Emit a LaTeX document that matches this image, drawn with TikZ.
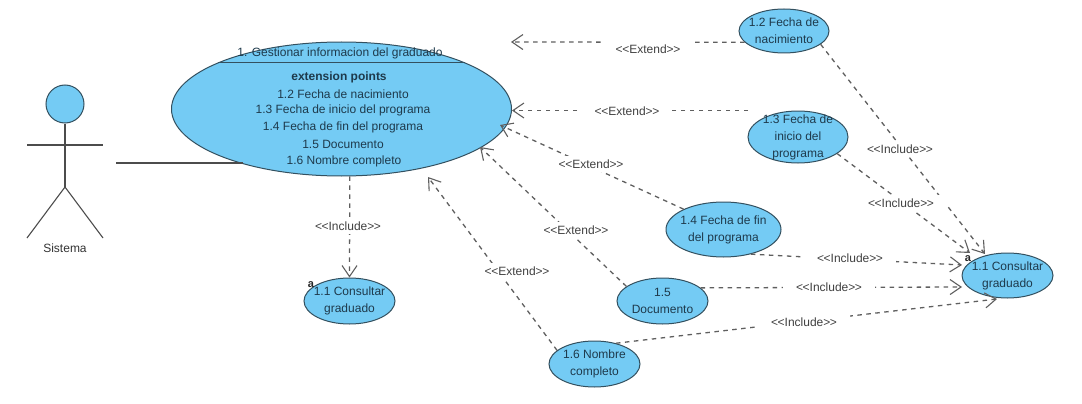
\documentclass[tikz,border=0pt]{standalone}
\usepackage{fontspec}
\setmainfont[Ligatures=NoCommon]{Liberation Sans}
\usetikzlibrary{arrows.meta,shapes.geometric}
\definecolor{ucfill}{HTML}{74CBF4}
\definecolor{ucline}{HTML}{33505F}
\definecolor{uctext}{HTML}{1E3A4C}
\definecolor{conn}{HTML}{5F5F5F}
\newcommand{\stereo}[1]{{<}\kern-0.4pt{<}#1{>}\kern-0.4pt{>}}
\tikzset{
  uc/.style={ellipse,draw=ucline,fill=ucfill,line width=1pt,inner sep=-12pt,align=center,text=uctext,
    font=\fontsize{12}{17}\selectfont},
  main text/.style={inner sep=0pt,text=uctext,font=\fontsize{12}{14}\selectfont},
  rel/.style={draw=conn,line width=1.3pt,dash pattern=on 4.5pt off 4.5pt,
    -{Straight Barb[length=11pt,width=15pt,line width=1.1pt,color=conn]}},
  lab/.style={fill=white,inner xsep=13pt,inner ysep=4pt,text=black!75,font=\fontsize{12}{14}\selectfont},
  stick/.style={draw=black!70,line width=1.1pt},
  mark a/.style={inner sep=0pt,text=black!85,font=\fontsize{11}{12}\selectfont\bfseries}
}
\begin{document}
\begin{tikzpicture}[x=1pt,y=-1pt]
\useasboundingbox (0,0) rectangle (1082,404);
% actor
\node[circle,draw=ucline,fill=ucfill,line width=1pt,minimum size=38pt,inner sep=0pt] (head) at (65,104) {};
\coordinate (hip) at (65,187);
\coordinate (armL) at (27,145);
\coordinate (armR) at (103,145);
\coordinate (legL) at (27,238);
\coordinate (legR) at (103,238);
\coordinate (assocS) at (116,163);
\coordinate (assocE) at (243,163);
\draw[stick] (head.south) -- (hip);
\draw[stick] (armL) -- (armR);
\draw[stick] (legL) -- (hip) -- (legR);
\node[inner sep=0pt,text=black!80,font=\fontsize{12}{14}\selectfont] (actor) at (65,248) {Sistema};
% main use case
\node[uc,minimum width=340pt,minimum height=134pt] (main) at (341.5,109) {};
\coordinate (sepL) at (218,63);
\coordinate (sepR) at (465,63);
\draw[draw=ucline,line width=1pt] (sepL) -- (sepR);
\node[main text] (title) at (340,53) {1. Gestionar informacion del graduado};
\node[main text,font=\fontsize{12}{14}\selectfont\bfseries] (ep) at (339,77) {extension points};
\node[main text] (p2) at (343,94) {1.2 Fecha de nacimiento};
\node[main text] (p3) at (343,110.5) {1.3 Fecha de inicio del programa};
\node[main text] (p4) at (343,127.5) {1.4 Fecha de fin del programa};
\node[main text] (p5) at (343,144) {1.5 Documento};
\node[main text] (p6) at (344,161) {1.6 Nombre completo};
% other use cases
\node[uc,minimum width=90pt,minimum height=44pt] (n12) at (784,31) {1.2 Fecha de\\nacimiento};
\node[uc,minimum width=100pt,minimum height=52pt] (n13) at (798,137) {1.3 Fecha de\\inicio del\\programa};
\node[uc,minimum width=115pt,minimum height=55pt] (n14) at (723.5,229.5) {1.4 Fecha de fin\\del programa};
\node[uc,minimum width=91pt,minimum height=46pt] (n15) at (662.5,301) {1.5\\Documento};
\node[uc,minimum width=91pt,minimum height=46pt] (n16) at (594.5,364) {1.6 Nombre\\completo};
\node[uc,minimum width=91pt,minimum height=46pt] (n11a) at (349.5,301) {1.1 Consultar\\graduado};
\node[uc,minimum width=91pt,minimum height=45pt] (n11b) at (1007.5,275.5) {1.1 Consultar\\graduado};
\node[mark a] (a1) at (311,285) {a};
\node[mark a] (a2) at (968,259) {a};
% free ends
\coordinate (t12) at (511,42);
\coordinate (s13) at (748,110.5);
\coordinate (t13) at (512,110.5);
\coordinate (t14) at (500,125);
\coordinate (t15) at (480,147);
\coordinate (t16) at (428,177);
\coordinate (i12) at (985,254);
\coordinate (i13) at (970,253);
\coordinate (i14) at (962,265);
\coordinate (i15) at (962,287);
\coordinate (i16) at (997,299);
% connectors
\draw[stick] (assocS) -- (assocE);
\draw[rel] (n12.196) -- (t12);
\draw[rel] (s13) -- (t13);
\draw[rel] (n14.153) -- (t14);
\draw[rel] (n15.158) -- (t15);
\draw[rel] (n16.160) -- (t16);
\draw[rel] (main.277) -- (n11a.north);
\draw[rel] (n12.340) -- (i12);
\draw[rel] (n13.337) -- (i13);
\draw[rel] (n14.318) -- (i14);
\draw[rel] (n15.19) -- (i15);
\draw[rel] (n16.44) -- (i16);
% labels
\node[lab] (l1) at (648,49) {\stereo{Extend}};
\node[lab] (l2) at (627,111) {\stereo{Extend}};
\node[lab] (l3) at (591,164) {\stereo{Extend}};
\node[lab] (l4) at (576,230) {\stereo{Extend}};
\node[lab] (l5) at (517,271) {\stereo{Extend}};
\node[lab] (l6) at (348,226) {\stereo{Include}};
\node[lab] (l7) at (900,149) {\stereo{Include}};
\node[lab] (l8) at (901,203) {\stereo{Include}};
\node[lab] (l9) at (850,258) {\stereo{Include}};
\node[lab] (l10) at (829,287) {\stereo{Include}};
\node[lab] (l11) at (804,322) {\stereo{Include}};
\end{tikzpicture}
\end{document}
